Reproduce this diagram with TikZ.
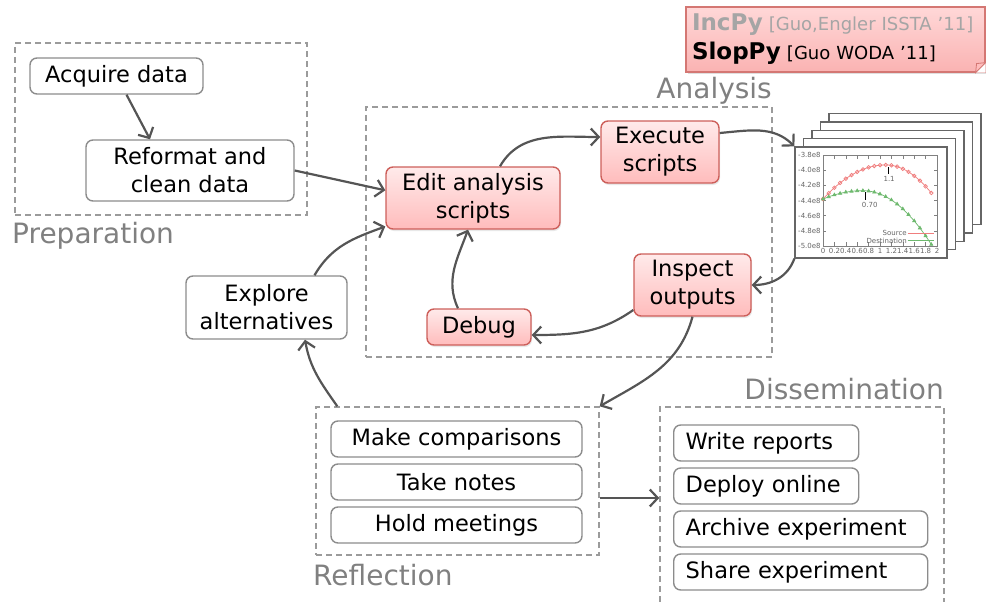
\documentclass[tikz,border=0pt]{standalone}
\usepackage{fontspec}
\setmainfont{DejaVu Sans}
\usepackage{tikz}
\usetikzlibrary{arrows.meta,positioning,fit,calc,shadows,plotmarks}
\definecolor{ink}{RGB}{85,85,85}
\definecolor{frame}{RGB}{140,140,140}
\definecolor{dash}{RGB}{155,155,155}
\definecolor{phasegray}{RGB}{128,128,128}
\definecolor{hottop}{RGB}{255,234,234}
\definecolor{hotbot}{RGB}{255,188,188}
\definecolor{hotline}{RGB}{205,95,90}
\definecolor{incgray}{RGB}{165,165,165}
\definecolor{srcred}{RGB}{240,125,125}
\definecolor{dstgreen}{RGB}{110,185,110}
\tikzset{
  task/.style={draw=frame, line width=1.4pt, rounded corners=7pt, fill=white,
    align=center, inner sep=0pt},
  hot/.style={draw=hotline, line width=1.4pt, rounded corners=7pt,
    top color=hottop, bottom color=hotbot, align=center, inner sep=0pt,
    drop shadow={opacity=0.18, shadow xshift=1pt, shadow yshift=-2pt}},
  item/.style={task, anchor=west, align=left, inner xsep=12pt, minimum height=36pt},
  area/.style={draw=dash, line width=1.4pt, dash pattern=on 6pt off 4pt, inner sep=0pt},
  phase/.style={text=phasegray, font=\fontsize{28}{32}\selectfont, inner sep=0pt},
  flow/.style={draw=ink, line width=2.2pt, -{Straight Barb[length=8pt, width=17pt]}},
  % plot pages
  sheet/.style={draw=black!60, line width=1.3pt, fill=white,
    minimum width=152pt, minimum height=111pt, inner sep=0pt},
  axlbl/.style={font=\fontsize{7}{8}\selectfont, text=black!60, inner sep=1pt},
  % citation note
  note/.style={draw=hotline!85, line width=1.2pt, top color=hottop!60!hotbot,
    bottom color=hotbot!90!hotline, minimum width=299pt, minimum height=65pt,
    text width=287pt, inner xsep=6pt, align=left, font=\fontsize{18}{29}\selectfont,
    drop shadow={opacity=0.25, shadow xshift=2pt, shadow yshift=-2pt}}
}
\begin{document}
\begin{tikzpicture}[x=1pt, y=-1pt, font=\fontsize{22.5}{28}\selectfont]
  \useasboundingbox (0,0) rectangle (986,602);

  \node[area, fit={(15,43) (307,215)}] (prep) {};
  \node[area, fit={(366,107) (772,357)}] (ana) {};
  \node[area, fit={(316,407) (599,555)}] (refl) {};
  \node[area, fit={(660,407) (944,640)}] (dissem) {};
  \node[phase, anchor=base west] (prepL) at (12,243) {Preparation};
  \node[phase, anchor=base east] (anaL) at (772,99) {Analysis};
  \node[phase, anchor=base west] (reflL) at (313,585) {Reflection};
  \node[phase, anchor=base east] (dissemL) at (944,399) {Dissemination};

  \node[task, minimum width=173pt, minimum height=36pt] (acq) at (116.5,76) {Acquire data};
  \node[task, minimum width=208pt, minimum height=61pt] (reformat) at (190,170.5) {Reformat and\\clean data};
  \node[hot, minimum width=174pt, minimum height=62pt] (edit) at (473,198) {Edit analysis\\scripts};
  \node[hot, minimum width=118pt, minimum height=62pt] (exec) at (660,152) {Execute\\scripts};
  \node[hot, minimum width=117pt, minimum height=62pt] (inspect) at (692.5,285) {Inspect\\outputs};
  \node[hot, minimum width=104pt, minimum height=36pt] (debug) at (479,327) {Debug};
  \node[task, minimum width=161pt, minimum height=63pt] (explore) at (266.5,307.5) {Explore\\alternatives};

  \foreach \n/\y/\t in {compare/439/Make comparisons, notes/482/Take notes, meet/525/Hold meetings}
    \node[task, minimum width=251pt, minimum height=36pt] (\n) at (456.5,\y) {\t};
  \foreach \n/\y/\w/\tw/\t in {write/443/185/161/Write reports, deploy/486/185/161/Deploy online,
      archive/529/254/230/Archive experiment, share/572/254/230/Share experiment}
    \node[item, minimum width=\w pt, text width=\tw pt] (\n) at (673,\y) {\t};

  % stack of plots
  \foreach \k in {4,3,2,1}
    \node[sheet] (sheet\k) at ({871+8.5*\k},{202.5-8.3*\k}) {};
  \node[sheet] (plot) at (871,202.5) {};
  \begin{scope}[shift={(823,246)}, x=57pt, y=75.8pt]
    \draw[black!50, line width=0.5pt] (0,0) rectangle (2,1.2);
    \foreach \t [count=\i] in {0,0.2,0.4,0.6,0.8,1,1.2,1.4,1.6,1.8,2} {
      \draw[black!50, line width=0.5pt] (\t,0) -- (\t,0.05) (\t,1.2) -- (\t,1.15);
      \node[axlbl, anchor=north] (xt\i) at (\t,-0.02) {\t};
    }
    \foreach \v/\l [count=\i] in {1.2/-3.8e8, 1.0/-4.0e8, 0.8/-4.2e8, 0.6/-4.4e8, 0.4/-4.6e8, 0.2/-4.8e8, 0/-5.0e8} {
      \draw[black!50, line width=0.5pt] (0,\v) -- (0.06,\v) (2,\v) -- (1.94,\v);
      \node[axlbl, anchor=east] (yt\i) at (-0.02,\v) {\l};
    }
    \draw[srcred, line width=0.7pt, mark=o, mark size=1.8pt] plot[smooth] coordinates {
      (0,0.62) (0.1,0.698) (0.2,0.769) (0.3,0.832) (0.4,0.888) (0.5,0.936) (0.6,0.977)
      (0.7,1.010) (0.8,1.037) (0.9,1.055) (1.0,1.066) (1.1,1.07) (1.2,1.064) (1.3,1.047)
      (1.4,1.018) (1.5,0.978) (1.6,0.925) (1.7,0.862) (1.8,0.787) (1.9,0.70)};
    \draw[dstgreen, line width=0.7pt, mark=triangle*, mark size=1.8pt] plot[smooth] coordinates {
      (0,0.62) (0.1,0.649) (0.2,0.674) (0.3,0.694) (0.4,0.710) (0.5,0.721) (0.6,0.728)
      (0.7,0.73) (0.8,0.725) (0.9,0.710) (1.0,0.686) (1.1,0.651) (1.2,0.607) (1.3,0.553)
      (1.4,0.489) (1.5,0.414) (1.6,0.331) (1.7,0.237) (1.8,0.133) (1.9,0.02)};
    \draw[black, line width=0.9pt] (1.15,1.04) -- (1.15,0.95);
    \node[axlbl, anchor=north] (peakA) at (1.16,0.93) {1.1};
    \draw[black, line width=0.9pt] (0.75,0.71) -- (0.75,0.61);
    \node[axlbl, anchor=north] (peakB) at (0.82,0.59) {0.70};
    \node[axlbl, anchor=east] (srcL) at (1.49,0.17) {Source};
    \node[axlbl, anchor=east] (dstL) at (1.49,0.07) {Destination};
    \draw[srcred, line width=0.7pt] (srcL.east) -- ++(0.45,0) node[pos=0.6, mark size=1.8pt] (srcM) {\pgfuseplotmark{o}};
    \draw[dstgreen, line width=0.7pt] (dstL.east) -- ++(0.45,0) node[pos=0.6, mark size=1.8pt] (dstM) {\pgfuseplotmark{triangle*}};
  \end{scope}

  % citation note
  \node[note] (note) at (835.5,39.5) {{\color{incgray}\bfseries\fontsize{23}{29}\selectfont IncPy}
    {\color{incgray}[Guo,Engler ISSTA ’11]}\\{\bfseries\fontsize{23}{29}\selectfont SlopPy} [Guo WODA ’11]};
  \coordinate (nse) at (note.south -| note.east);
  \fill[white] (nse) -- ($(nse)+(-10,0)$) -- ($(nse)+(0,-10)$) -- cycle;
  \filldraw[draw=hotline!85, line width=0.8pt, fill=hotbot] ($(nse)+(-10,0)$) -- ($(nse)+(0,-10)$) -- ($(nse)+(-9,-9)$) -- cycle;

  \draw[flow] ($(acq.south)+(10,0)$) -- ($(reformat.north)+(-40,0)$);
  \draw[flow] (reformat.east) -- (edit.175);
  \draw[flow] ($(edit.north)+(27,0)$) to[out=60, in=180] ($(exec.west)+(0,-15)$);
  \draw[flow] ($(exec.east)+(0,-19)$) to[out=5, in=135] (plot.north west);
  \draw[flow] (plot.south west) to[out=-110, in=0] (inspect.east);
  \draw[flow] ($(inspect.west)+(0,25)$) to[out=215, in=0] ($(debug.east)+(0,8)$);
  \draw[flow] ($(debug.north)+(-21,0)$) to[out=115, in=-110] ($(edit.south)+(-5,0)$);
  \draw[flow] (inspect.south) to[out=-105, in=30] (refl.north east);
  \draw[flow] ($(refl.north west)+(22,0)$) to[out=125, in=-80] ($(explore.south)+(38.5,0)$);
  \draw[flow] ($(explore.north)+(48,0)$) to[out=60, in=200] (edit.198);
  \coordinate (rj) at ($(refl.east)+(0,17)$);
  \draw[flow] (rj) -- (rj -| dissem.west);
\end{tikzpicture}
\end{document}
